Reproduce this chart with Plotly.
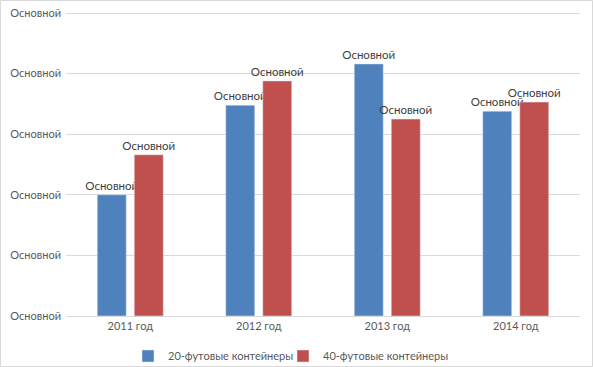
import plotly.graph_objects as go

categories = ["2011 год", "2012 год", "2013 год", "2014 год"]
series_names = ["20-футовые контейнеры", "40-футовые контейнеры"]
values_20ft = [2.0, 3.48, 4.16, 3.38]
values_40ft = [2.66, 3.88, 3.25, 3.53]
data_label = "Основной"
y_tick_values = [0, 1, 2, 3, 4, 5]
y_tick_labels = ["Основной"] * 6

W, H = 593, 367
L, R, T, B = 66, 13, 10, 51

fig = go.Figure()
for i, (name, vals, color) in enumerate([(series_names[0], values_20ft, "#4f81bd"),
                                          (series_names[1], values_40ft, "#c0504d")]):
    fig.add_trace(go.Bar(
        x=categories, y=vals, name=name, marker_color=color,
        text=[data_label] * len(vals), textposition="outside",
        constraintext="none", cliponaxis=False,
        textfont=dict(family="Lato", size=11.5, color="#404040"),
        hoverinfo="skip",
        legendwidth=110 if i == 0 else None,
    ))

pw = W - L - R
ph = H - T - B
fig.add_shape(type="rect", xref="paper", yref="paper",
              x0=-L / pw + 0.5 / pw, x1=1 + R / pw - 0.5 / pw,
              y0=-B / ph + 0.5 / ph, y1=1 + T / ph - 0.5 / ph,
              line=dict(color="#d9d9d9", width=1), layer="below")

fig.update_layout(
    width=W, height=H,
    margin=dict(l=L, r=R, t=T, b=B, autoexpand=False),
    paper_bgcolor="white", plot_bgcolor="white",
    barmode="group", bargap=0.424, bargroupgap=0.216,
    font=dict(family="Lato", size=11, color="#595959"),
    showlegend=True,
    legend=dict(orientation="h", xref="container", yref="container",
                x=128 / W, xanchor="left",
                y=(H - 356) / H, yanchor="middle",
                bgcolor="rgba(0,0,0,0)",
                font=dict(family="Lato", size=11, color="#595959"),
                itemwidth=30, traceorder="normal", tracegroupgap=0),
    xaxis=dict(showgrid=False, showline=True, linecolor="#d9d9d9",
               automargin=False,
               ticks="", tickfont=dict(size=11, color="#595959")),
    yaxis=dict(range=[0, 5.05], tickvals=y_tick_values, ticktext=y_tick_labels,
               showgrid=True, gridcolor="#d9d9d9", zeroline=False,
               automargin=False,
               showline=False, ticks="", ticklabelstandoff=4,
               tickfont=dict(size=11, color="#595959")),
)

fig.write_html("out.html", config={"displayModeBar": False},
               post_script="document.body.style.margin='0';document.body.style.overflow='hidden';")
